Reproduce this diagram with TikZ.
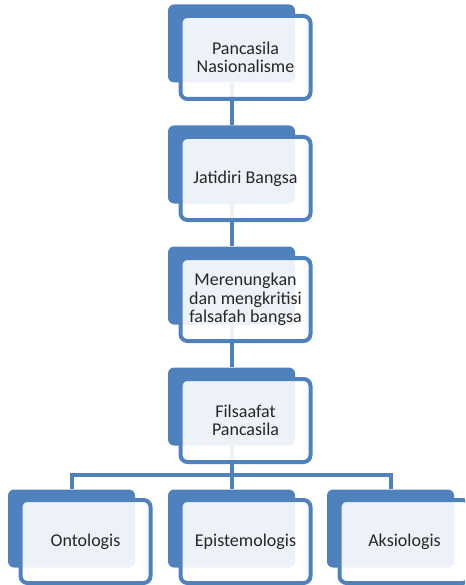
\documentclass[tikz,border=0pt]{standalone}
\usepackage{fontspec}
\setmainfont{Carlito}
\definecolor{accent}{HTML}{4F81BD}
\definecolor{ink}{HTML}{262626}
\pgfdeclarelayer{background}
\pgfsetlayers{background,main}
\begin{document}
\begin{tikzpicture}[x=1pt,y=-1pt,
  backbox/.style={rectangle, rounded corners=6pt, fill=accent,
    minimum width=127pt, minimum height=78pt, inner sep=0pt},
  frontbox/.style={rectangle, rounded corners=7pt, draw=accent, line width=4pt,
    fill=white, fill opacity=0.9, text opacity=1,
    minimum width=130pt, minimum height=83pt, inner sep=2pt,
    align=center, text=ink, font=\fontsize{18}{18.5}\selectfont},
  link/.style={draw=accent, line width=4pt}]
\useasboundingbox (0,0) rectangle (465,585);
\clip (0,0) rectangle (465,585);

% back plates
\node[backbox] (b1) at (231.5,43.5) {};
\node[backbox] (b2) at (231.5,164.5) {};
\node[backbox] (b3) at (231.5,285.5) {};
\node[backbox] (b4) at (231.5,406.5) {};
\node[backbox] (b5) at (71.5,528.5) {};
\node[backbox] (b6) at (231.5,528.5) {};
\node[backbox] (b7) at (390.5,528.5) {};

% labelled cards
\node[frontbox] (f1) at ([shift={(14,14)}]b1.center) {Pancasila\\Nasionalisme};
\node[frontbox] (f2) at ([shift={(14,14)}]b2.center) {Jatidiri Bangsa};
\node[frontbox] (f3) at ([shift={(14,14)}]b3.center) {Merenungkan\\dan mengkritisi\\falsafah bangsa};
\node[frontbox] (f4) at ([shift={(14,14)}]b4.center) {Filsaafat\\Pancasila};
\node[frontbox] (f5) at ([shift={(14,13)}]b5.center) {Ontologis};
\node[frontbox] (f6) at ([shift={(14,13)}]b6.center) {Epistemologis};
\node[frontbox] (f7) at ([shift={(14,13)}]b7.center) {Aksiologis};

% connectors behind everything
\begin{pgfonlayer}{background}
  \coordinate (fork) at (231.5,475);
  \draw[link] (b1) -- (b2);
  \draw[link] (b2) -- (b3);
  \draw[link] (b3) -- (b4);
  \draw[link] (b4) -- (fork);
  \draw[link] (fork) -| (b5);
  \draw[link] (fork) -- (b6);
  \draw[link] (fork) -| (b7);
\end{pgfonlayer}
\end{tikzpicture}
\end{document}
